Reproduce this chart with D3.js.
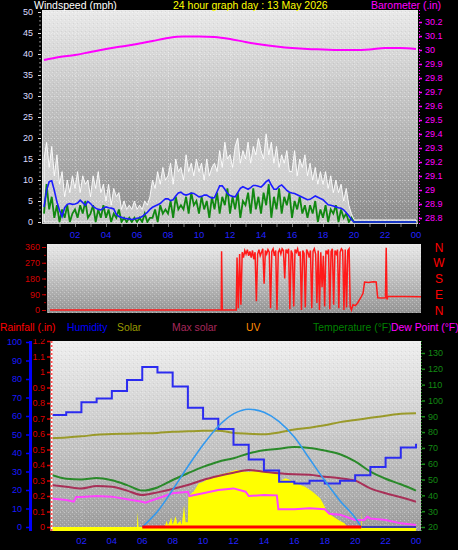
<!DOCTYPE html>
<html><head><meta charset="utf-8">
<script src="https://cdn.jsdelivr.net/npm/d3@7"></script>
<style>
body{margin:0;background:#000;overflow:hidden}
svg{display:block;font-family:"Liberation Sans",Arial,sans-serif}
</style></head>
<body><svg id="c" width="458" height="550"></svg>
<script>
// ================= DATA =================
const hourTicks = [0,1,2,3,4,5,6,7,8,9,10,11,12,13,14,15,16,17,18,19,20,21,22,23,24];
const xLabelHours = [2,4,6,8,10,12,14,16,18,20,22,24];
const xLabelText = ["02","04","06","08","10","12","14","16","18","20","22","00"];
const windTicks = [0,5,10,15,20,25,30,35,40,45,50];
const baroTicks = [28.8,28.9,29,29.1,29.2,29.3,29.4,29.5,29.6,29.7,29.8,29.9,30,30.1,30.2];
const dirTicks = [0,90,180,270,360];
const compassText = ["N","W","S","E","N"];
const compassDeg = [360,270,180,90,0];
const humTicks = [0,10,20,30,40,50,60,70,80,90,100];
const rainTicks = [0,0.1,0.2,0.3,0.4,0.5,0.6,0.7,0.8,0.9,1,1.1,1.2];
const tempTicks = [20,30,40,50,60,70,80,90,100,110,120,130];

// wind samples every 10 minutes (index / 6 = hour)
const windStepHours = 1/6;
const windGust = [
15,19,13,18,11,16, 9,12,6,10,7,11, 8,12,7,11,9,10, 6,11,8,12,7,9,
5,9,4,8,6,7, 3,5,3,4,3,5, 3,4,3,5,4,6, 10,8,12,9,13,10,
11,14,9,15,12,13, 10,16,12,14,11,15, 12,14,10,15,11,13, 14,12,17,13,19,15,
16,13,18,20,14,17, 15,19,14,18,16,20, 17,15,21,16,19,14, 18,13,16,14,17,12,
12,17,11,15,13,16, 11,14,10,13,9,12, 9,12,8,11,7,10, 7,9,5,8,4,2,
0.5,0.5,0.5,0.5,0.5,0.5, 0.5,0.5,0.5,0.5,0.5,0.5, 0.5,0.5,0.5,0.5,0.5,0.5, 0.5,0.5,0.5,0.5,0.5,0.5, 0.5];
const windSpeed = [
2,9,3,6,1,4, 0,3,1,4,0,2, 3,1,4,2,5,1, 2,4,0,3,1,4,
1,3,0,2,1,3, 0,1,0,1,0,1, 0,1,0,2,0,1, 1,3,0,4,2,3,
2,5,1,6,3,4, 3,6,2,7,4,5, 2,6,3,5,1,6, 3,7,2,6,4,8,
2,6,3,7,1,5, 4,7,2,8,3,6, 2,7,4,9,1,6, 3,8,2,6,4,7,
1,5,3,6,2,4, 1,4,2,5,0,3, 1,4,0,3,2,4, 0,3,1,2,0,1,
0,0,0,0,0,0, 0,0,0,0,0,0, 0,0,0,0,0,0, 0,0,0,0,0,0, 0];
const windAvg = [
3.6,7.5,9.6,9.8,7.5,4.8, 2.8,1.3,3.4,4.2,4.4,4.2, 4.3,4.5,5.2,4.6,4,4.9, 4.4,3.7,3.3,3,2.9,3.3,
3.6,3.4,3.3,3.1,1.8,1.3, 1.1,0.9,0.8,0.7,0.6,0.7, 0.9,1,1.3,1.8,2.3,3, 3.5,3.8,4.1,4.4,5,5.5,
5.5,5.1,5.3,6.2,6.9,7.1, 6.6,6.4,6.6,6.9,6.8,6.4, 6,6.1,6.4,6.4,6,5.7, 5.8,7.2,8.6,8.6,7.8,6.8,
6.3,6.1,6,7,8,8.4, 8.1,7.8,8.2,8.7,8.7,8.5, 8.3,8.9,9.6,10,8.8,7.8, 7.8,8.5,8.8,8.2,7.5,7.1,
6.9,6.8,6.5,6.2,5.9,5.6, 5.3,5.4,5.8,6.2,5.9,5.6, 5.3,4.7,4.1,4,3.8,3.6, 3.4,3.3,2.9,2.2,1.5,0.6,
0,0,0,0,0,0, 0,0,0,0,0,0, 0,0,0,0,0,0, 0,0,0,0,0,0, 0];

// barometer (inHg), hourly
const barometer = [29.929,29.95,29.964,29.986,30.007,30.025,30.043,30.064,30.086,30.096,30.096,30.093,30.079,
  30.057,30.039,30.025,30.014,30.007,30.004,30.0,30.0,30.004,30.014,30.014,30.007];

// wind direction (degrees)
const dirQuietTimes = [0, 11.08, 11.1, 11.14, 12.05];
const dirQuietValues = [0, 0, 335, 0, 0];
const dirBusyStart = 12.1, dirBusyStep = 1/12;
const dirBusyValues = [300,10,320,30,330,300,340,320,345,310,335,300,340,290,330,50,320,345,310,330,350,150,340,320,
  345,330,10,335,350,310,340,0,330,345,320,350,340,180,345,330,350,5,340,320,20,345,330,350,310,335,0,340,325,15,
  345,330,300,340,10,335,350,320,40,340,0,330,130,310,20,340,325,345,5,335,350,30,340,320,345,10,330,350,340,0,
  345,15,340,350];
const dirLateTimes = [19.42,19.5,19.6,19.75,19.9,20.1,20.25,20.35,20.6,20.9,21.1,21.2,21.5,21.7,21.75,21.8,21.85,24];
const dirLateValues = [20,0,30,25,40,70,95,160,157,162,160,70,68,70,355,60,78,76];

// bottom panel
const humidity = [60.5,62,67.5,69.5,73.5,79.5,86.5,83.5,76,64.5,58.5,53,44.5,36.5,30.5,24.5,23.5,25,23.5,25,28,32.5,37.5,43,45];
const temperature = [53,50.5,50,51,49.5,46.5,43,45,49.7,54,58,61.3,63.5,66.5,68.5,69.5,70.5,70,68.3,66,61.5,55,50.5,47,43];
const seriesMaroon = [46.5,45.5,44.4,45.9,45.5,43,40.2,41.9,44,46.5,49.7,52.2,54.3,56,55,54,53.3,53,51.8,50.8,49.3,44.4,41.3,38.8,36];
const seriesOlive = [76.1,76.6,77.3,78.3,78.8,79,79.2,79.5,80.2,80.5,80.8,80.9,79.5,79,78.6,79.8,81.6,82.8,84.3,86.3,87.6,89,90.3,91.6,91.9];
const dewTimes = [0,1,1.5,1.65,2,3,4,5,6,6.2,7,8,9,9.1,10,11,12,12.8,13,14,14.85,14.95,16,17,18,18.3,19,20,20.6,20.8,21,22,23,24];
const dewValues = [38,37,36,39,39,39.6,39.2,37.5,36,35.4,38,41.3,42.3,39.6,41.3,43.4,44.4,42.3,39.6,40.2,40,31.2,31.2,31.8,31.2,28.4,27.8,24.4,24.4,26.5,25.4,24.4,22.3,21.3];
const uvTimes = [6,7,8,9,10,11,12,13,14,15,16,17,18,19,20,20.4,24];
const uvValues = [0,1.0,2.4,3.9,5.3,6.5,7.3,7.6,7.4,6.8,5.8,4.4,3.0,1.7,0.6,0,0];
const solarTimes = [0,5.65,5.7,5.75,7.45,7.5,7.6,7.7,7.9,8.0,8.2,8.3,8.5,8.6,8.75,8.85,9.0,9.03,9.4,9.7,10.0,10.3,10.6,11,11.6,12.2,
  12.5,13,13.5,14,14.4,14.9,14.95,15.4,15.7,16.0,16.7,17.2,17.7,18.0,18.15,18.35,18.9,19.3,19.5,20.4,20.42,20.45,24];
const solarValues = [0,0,97,0,0,10,40,10,60,15,70,20,40,15,140,30,30,200,230,280,290,310,320,335,350,370,
  360,355,365,360,355,355,290,315,305,285,260,228,185,130,100,80,45,25,0,0,100,0,0];
const rainTimes = [6,20.4];
const rainValues = [0,0];

// ================= LAYOUT =================
const P1 = {x0:42, x1:418, y0:10, y1:224};
const P2 = {x0:47, x1:421, y0:244, y1:313};
const P3 = {x0:51, x1:421, y0:341, y1:531};

const svg = d3.select('#c');
const defs = svg.append('defs');
function grad(id, stops){
  const g = defs.append('linearGradient').attr('id',id).attr('x1',0).attr('y1',0).attr('x2',0).attr('y2',1);
  stops.forEach(s=>g.append('stop').attr('offset',s[0]).attr('stop-color',s[1]));
}
grad('g1',[[0,'#e9e9e9'],[0.5,'#bdbdbd'],[1,'#8a8a8a']]);
grad('g2',[[0,'#e9e9e9'],[0.5,'#c0c0c0'],[1,'#959595']]);
grad('g3',[[0,'#eeeeee'],[0.5,'#c8c8c8'],[1,'#9c9c9c']]);
const pat = defs.append('pattern').attr('id','dither').attr('width',4).attr('height',4).attr('patternUnits','userSpaceOnUse');
pat.append('rect').attr('x',0).attr('y',0).attr('width',1).attr('height',1).attr('fill','#fff').attr('opacity',0.35);
pat.append('rect').attr('x',2).attr('y',2).attr('width',1).attr('height',1).attr('fill','#fff').attr('opacity',0.25);
pat.append('rect').attr('x',1).attr('y',3).attr('width',1).attr('height',1).attr('fill','#000').attr('opacity',0.06);

function panelBg(P, gid, clipId){
  svg.append('rect').attr('x',P.x0).attr('y',P.y0).attr('width',P.x1-P.x0).attr('height',P.y1-P.y0).attr('fill',`url(#${gid})`);
  svg.append('rect').attr('x',P.x0).attr('y',P.y0).attr('width',P.x1-P.x0).attr('height',P.y1-P.y0).attr('fill','url(#dither)');
  defs.append('clipPath').attr('id',clipId).append('rect').attr('x',P.x0).attr('y',P.y0).attr('width',P.x1-P.x0).attr('height',P.y1-P.y0);
}
panelBg(P1,'g1','c1'); panelBg(P2,'g2','c2'); panelBg(P3,'g3','c3');

// scales
const x1 = d3.scaleLinear().domain([0,24]).range([44,416]);
const yWind = d3.scaleLinear().domain([0,50]).range([222,12]);
const yBaro = d3.scaleLinear().domain([28.8,30.2]).range([218,22]);
const x2 = d3.scaleLinear().domain([0,24]).range([50,421]);
const yDir = d3.scaleLinear().domain([0,360]).range([310,247]);
const x3 = d3.scaleLinear().domain([0,24]).range([51,416]);
const yHum = d3.scaleLinear().domain([0,100]).range([527,342]);
const yRain = d3.scaleLinear().domain([0,1.2]).range([527,341]);
const yTemp = d3.scaleLinear().domain([20,130]).range([527,353]);
const ySolar = d3.scaleLinear().domain([0,1200]).range([527,341]);
const yUV = d3.scaleLinear().domain([0,12]).range([527,341]);

// grids
const grid1 = svg.append('g').attr('clip-path','url(#c1)');
grid1.selectAll('.h').data(windTicks).join('line').attr('x1',P1.x0).attr('x2',P1.x1)
  .attr('y1',d=>yWind(d)+0.5).attr('y2',d=>yWind(d)+0.5).attr('stroke','#fff').attr('stroke-opacity',0.35).attr('stroke-dasharray','1,2');
grid1.selectAll('.v').data(xLabelHours).join('line').attr('y1',P1.y0).attr('y2',P1.y1)
  .attr('x1',d=>x1(d)+0.5).attr('x2',d=>x1(d)+0.5).attr('stroke','#fff').attr('stroke-opacity',0.3).attr('stroke-dasharray','1,2');
const grid3 = svg.append('g').attr('clip-path','url(#c3)');
grid3.selectAll('.v').data([2,6,10,14,18,22]).join('line').attr('y1',P3.y0).attr('y2',P3.y1)
  .attr('x1',d=>x3(d)+0.5).attr('x2',d=>x3(d)+0.5).attr('stroke','#fff').attr('stroke-opacity',0.35).attr('stroke-dasharray','1,2');
grid3.selectAll('.h').data(tempTicks).join('line').attr('x1',P3.x0).attr('x2',P3.x1)
  .attr('y1',d=>yTemp(d)+0.5).attr('y2',d=>yTemp(d)+0.5).attr('stroke','#fff').attr('stroke-opacity',0.25).attr('stroke-dasharray','1,2');

// ===== Panel 1: wind + barometer =====
const g1 = svg.append('g').attr('clip-path','url(#c1)');
const wIdx = windGust.map((d,i)=>i);
g1.append('path').datum(wIdx).attr('fill','#ffffff').attr('fill-opacity',0.5)
  .attr('stroke','#ffffff').attr('stroke-opacity',0.9).attr('stroke-width',1)
  .attr('d', d3.area().x(i=>x1(i*windStepHours)).y0(yWind(0)).y1(i=>yWind(windGust[i])));
g1.append('path').datum(wIdx).attr('fill','none').attr('stroke','#118811').attr('stroke-width',1.8)
  .attr('d', d3.line().x(i=>x1(i*windStepHours)).y(i=>yWind(windSpeed[i])));
g1.append('path').datum(wIdx).attr('fill','none').attr('stroke','#1c1cff').attr('stroke-width',1.6)
  .attr('d', d3.line().x(i=>x1(i*windStepHours)).y(i=>yWind(windAvg[i])));
g1.append('path').datum(hourTicks).attr('fill','none').attr('stroke','#ff00ff').attr('stroke-width',2)
  .attr('d', d3.line().x(h=>x1(h)).y((h,i)=>yBaro(barometer[i])).curve(d3.curveMonotoneX));
// panel borders
svg.append('line').attr('x1',P1.x0+0.5).attr('x2',P1.x0+0.5).attr('y1',P1.y0).attr('y2',P1.y1).attr('stroke','#e8e8e8');
svg.append('line').attr('x1',P1.x0).attr('x2',P1.x1).attr('y1',P1.y1-0.5).attr('y2',P1.y1-0.5).attr('stroke','#d0d0d0');

// axes panel 1
const aw = svg.append('g').attr('transform',`translate(41,0)`)
  .call(d3.axisLeft(yWind).tickValues(d3.range(0,51,1)).tickSize(2).tickFormat(''));
aw.select('.domain').remove(); aw.selectAll('line').attr('stroke','#8a8a8a');
const aw2 = svg.append('g').attr('transform',`translate(41,0)`)
  .call(d3.axisLeft(yWind).tickValues(windTicks).tickSize(3).tickPadding(5));
aw2.select('.domain').remove(); aw2.selectAll('line').attr('stroke','#dddddd');
aw2.selectAll('text').attr('fill','#dcdcff').attr('font-size','9px').attr('font-family','Liberation Sans, Arial, sans-serif');

svg.append('line').attr('x1',419.5).attr('x2',419.5).attr('y1',P1.y0).attr('y2',P1.y1).attr('stroke','#ff00ff').attr('stroke-dasharray','1,2');
const ab = svg.append('g').attr('transform',`translate(419,0)`)
  .call(d3.axisRight(yBaro).tickValues(baroTicks).tickSize(3).tickPadding(3).tickFormat(d=>String(Math.round(d*10)/10)));
ab.select('.domain').remove(); ab.selectAll('line').attr('stroke','#ff00ff').attr('stroke-width',1.5);
ab.selectAll('text').attr('fill','#ff00ff').attr('font-size','9px').attr('font-family','Liberation Sans, Arial, sans-serif');

const ax1 = svg.append('g').attr('transform',`translate(0,${P1.y1})`)
  .call(d3.axisBottom(x1).tickValues(hourTicks.slice(1)).tickSize(3).tickFormat(''));
ax1.select('.domain').remove(); ax1.selectAll('line').attr('stroke','#777');
svg.append('g').selectAll('text').data(xLabelHours).join('text')
  .attr('x',d=>x1(d)).attr('y',238).attr('text-anchor','middle').attr('fill','#2222ff').attr('font-size','9.5px')
  .text((d,i)=>xLabelText[i]);

// titles
svg.append('text').attr('x',34).attr('y',9).attr('fill','#ffffff').attr('font-size','10.5px').text('Windspeed (mph)');
svg.append('text').attr('x',173).attr('y',9).attr('fill','#ffff00').attr('font-size','10.5px').text('24 hour graph day : 13 May 2026');
svg.append('text').attr('x',371).attr('y',9).attr('fill','#ff00ff').attr('font-size','10.5px').text('Barometer (.in)');

// ===== Panel 2: wind direction =====
const dirPts = [];
dirQuietTimes.forEach((t,i)=>dirPts.push([t,dirQuietValues[i]]));
dirBusyValues.forEach((v,i)=>dirPts.push([dirBusyStart+i*dirBusyStep,v]));
dirLateTimes.forEach((t,i)=>dirPts.push([t,dirLateValues[i]]));
const g2 = svg.append('g').attr('clip-path','url(#c2)');
g2.append('path').datum(dirPts).attr('fill','none').attr('stroke','#ff1a1a').attr('stroke-width',1.5)
  .attr('d', d3.line().x(d=>x2(d[0])).y(d=>yDir(d[1])));
const ad0 = svg.append('g').attr('transform',`translate(46,0)`)
  .call(d3.axisLeft(yDir).tickValues(d3.range(0,361,45)).tickSize(2).tickFormat(''));
ad0.select('.domain').remove(); ad0.selectAll('line').attr('stroke','#aa0000');
const ad = svg.append('g').attr('transform',`translate(46,0)`)
  .call(d3.axisLeft(yDir).tickValues(dirTicks).tickSize(4).tickPadding(2));
ad.select('.domain').remove(); ad.selectAll('line').attr('stroke','#cc0000');
ad.selectAll('text').attr('fill','#d40000').attr('font-size','9px').attr('font-family','Liberation Sans, Arial, sans-serif');
svg.append('g').selectAll('text').data(compassDeg).join('text')
  .attr('x',439).attr('y',d=>yDir(d)+4.5).attr('text-anchor','middle').attr('fill','#ff0000').attr('font-size','12px')
  .text((d,i)=>compassText[i]);

// ===== Panel 3 =====
const legend = [
  {t:'Rainfall (.in)', x:0, c:'#ff0000'},
  {t:'Humidity', x:67, c:'#0000ff'},
  {t:'Solar', x:117, c:'#999900'},
  {t:'Max solar', x:172, c:'#a8285c'},
  {t:'UV', x:246, c:'#ff8c00'},
  {t:'Temperature (°F)', x:313, c:'#008000'},
  {t:'Dew Point (°F)', x:391, c:'#ff00ff'}];
svg.append('g').selectAll('text').data(legend).join('text')
  .attr('x',d=>d.x).attr('y',331).attr('fill',d=>d.c).attr('font-size','10.4px').text(d=>d.t);

const g3 = svg.append('g').attr('clip-path','url(#c3)');
const solarPts = solarTimes.map((t,i)=>[t,solarValues[i]]);
g3.append('path').datum(solarPts).attr('fill','#ffff00').attr('stroke','none')
  .attr('d', d3.area().x(d=>x3(d[0])).y0(P3.y1).y1(d=>ySolar(d[1])));
const line3 = (arr, times, scale, color, w, curve) => g3.append('path').datum(arr.map((v,i)=>[times[i],v]))
  .attr('fill','none').attr('stroke',color).attr('stroke-width',w)
  .attr('d', d3.line().x(d=>x3(d[0])).y(d=>scale(d[1])).curve(curve||d3.curveLinear));
line3(seriesOlive, hourTicks, yTemp, '#9a9a2a', 2, d3.curveMonotoneX);
line3(seriesMaroon, hourTicks, yTemp, '#a83058', 2, d3.curveMonotoneX);
line3(temperature, hourTicks, yTemp, '#2a8a2a', 2, d3.curveMonotoneX);
line3(dewValues, dewTimes, yTemp, '#ff44ff', 2);
line3(humidity, hourTicks, yHum, '#2c2cf0', 2, d3.curveStepAfter);
const uvMain = uvValues.map((v,i)=>[uvTimes[i],v]);
g3.append('path').datum(uvMain.slice(0,uvMain.length-1)).attr('fill','none').attr('stroke','#3399ee').attr('stroke-width',1.6)
  .attr('d', d3.line().x(d=>x3(d[0])).y(d=>yUV(d[1])).curve(d3.curveMonotoneX));
g3.append('path').datum(uvMain.slice(uvMain.length-2)).attr('fill','none').attr('stroke','#3a3aa8').attr('stroke-width',2)
  .attr('d', d3.line().x(d=>x3(d[0])).y(d=>yUV(d[1])));
line3(rainValues, rainTimes, yRain, '#ff0000', 3);

// left axes panel 3
const leftClip = defs.append('clipPath').attr('id','cl');
leftClip.append('rect').attr('x',0).attr('y',339).attr('width',60).attr('height',211);
const la = svg.append('g').attr('clip-path','url(#cl)');
la.append('line').attr('x1',30.5).attr('x2',30.5).attr('y1',P3.y0).attr('y2',P3.y1).attr('stroke','#0000ff').attr('stroke-width',3);
const ah = la.append('g').attr('transform','translate(29,0)')
  .call(d3.axisLeft(yHum).tickValues(humTicks).tickSize(3).tickPadding(4));
ah.select('.domain').remove(); ah.selectAll('line').attr('stroke','#0000ff').attr('stroke-width',1.5);
ah.selectAll('text').attr('fill','#1a1aff').attr('font-size','9px').attr('font-family','Liberation Sans, Arial, sans-serif');
la.append('line').attr('x1',51.5).attr('x2',51.5).attr('y1',P3.y0).attr('y2',P3.y1).attr('stroke','#ffffff').attr('stroke-width',2);
la.append('line').attr('x1',51.5).attr('x2',51.5).attr('y1',P3.y0).attr('y2',P3.y1).attr('stroke','#ff5050').attr('stroke-width',2).attr('stroke-dasharray','2,2');
const ar = la.append('g').attr('transform','translate(50,0)')
  .call(d3.axisLeft(yRain).tickValues(rainTicks).tickSize(3).tickPadding(2).tickFormat(d=>String(Math.round(d*10)/10)));
ar.select('.domain').remove(); ar.selectAll('line').attr('stroke','#dd0000').attr('stroke-width',1.5);
ar.selectAll('text').attr('fill','#dd0000').attr('font-size','9px').attr('font-family','Liberation Sans, Arial, sans-serif');

// right axis temperature
svg.append('line').attr('x1',421.5).attr('x2',421.5).attr('y1',P3.y0).attr('y2',P3.y1).attr('stroke','#1a8a1a').attr('stroke-dasharray','1,2');
const at = svg.append('g').attr('transform','translate(422,0)')
  .call(d3.axisRight(yTemp).tickValues(tempTicks).tickSize(3).tickPadding(3));
at.select('.domain').remove(); at.selectAll('line').attr('stroke','#1a8a1a').attr('stroke-width',1.5);
at.selectAll('text').attr('fill','#138a13').attr('font-size','9px').attr('font-family','Liberation Sans, Arial, sans-serif');

// bottom x labels
svg.append('g').selectAll('text').data(xLabelHours).join('text')
  .attr('x',d=>x3(d)).attr('y',544).attr('text-anchor','middle').attr('fill','#2222ff').attr('font-size','9.5px')
  .text((d,i)=>xLabelText[i]);
</script></body></html>
